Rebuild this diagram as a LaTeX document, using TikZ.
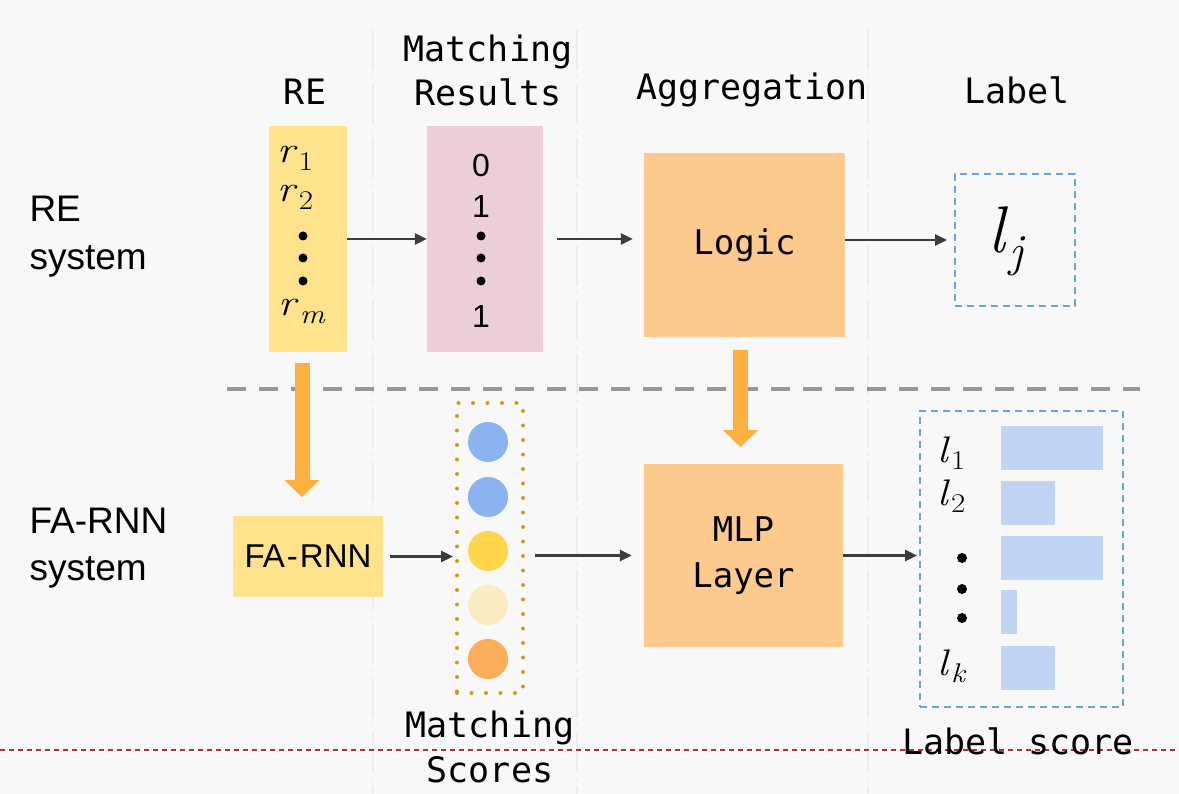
\documentclass[tikz,border=0pt]{standalone}
\usepackage{graphicx}
\usepackage{fontspec}
\setsansfont{Liberation Sans}
\setmonofont{DejaVu Sans Mono}
\usetikzlibrary{arrows.meta,positioning}

\definecolor{bg}{RGB}{248,248,248}
\definecolor{yelbox}{RGB}{255,226,140}
\definecolor{pinkbox}{RGB}{236,207,214}
\definecolor{orgbox}{RGB}{253,202,142}
\definecolor{fatorg}{RGB}{251,176,64}
\definecolor{cblue}{RGB}{138,180,240}
\definecolor{cyel}{RGB}{255,213,74}
\definecolor{cpale}{RGB}{251,235,192}
\definecolor{corg}{RGB}{250,174,90}
\definecolor{barblue}{RGB}{192,212,244}
\definecolor{dashblue}{RGB}{110,160,230}
\definecolor{linkgray}{RGB}{60,60,60}
\definecolor{sepgray}{RGB}{150,150,150}
\definecolor{dotgold}{RGB}{200,160,20}
\definecolor{pagered}{RGB}{170,50,60}

% wide symbol with big subscript, as on the slide
\newcommand{\widem}[2]{\scalebox{1.15}[1]{\textit{#1}\kern1pt\raisebox{-0.2em}{\fontsize{27}{30}\selectfont #2}}}

\begin{document}
\begin{tikzpicture}
  [x=1pt,y=-1pt,
   box/.style={rectangle,inner sep=0pt},
   head/.style={font=\ttfamily\fontsize{35}{40}\selectfont,anchor=base},
   side/.style={font=\sffamily\fontsize{37}{42}\selectfont,anchor=base west},
   mth/.style={font=\fontsize{37}{40}\selectfont,inner sep=0pt,anchor=base west},
   num/.style={font=\sffamily\fontsize{32}{36}\selectfont},
   dotn/.style={circle,fill=black,inner sep=0pt,minimum size=9pt},
   score/.style={circle,inner sep=0pt,minimum size=40pt},
   bar/.style={rectangle,fill=barblue,inner sep=0pt,minimum height=44pt,anchor=west},
   bluedash/.style={draw=dashblue,line width=1.8pt,dash pattern=on 7pt off 5pt},
   link/.style={draw=linkgray,line width=2.8pt,-{Triangle[length=12pt,width=11pt]}},
   fat/.style={draw=fatorg,line width=15pt,-{Triangle[length=17pt,width=34pt]}}]

  \useasboundingbox[fill=bg] (0,0) rectangle (1179,794);

  % faint column dividers
  \foreach \x in {373,577,868}
    \draw[black!7,line width=2pt,dash pattern=on 40pt off 6pt on 2pt off 6pt] (\x,30) -- (\x,794);

  % headers
  \node[head] (hre)  at (305,105) {RE};
  \node[head] (hmat) at (488,62)  {Matching};
  \node[head] (hres) at (488,106) {Results};
  \node[head] (hagg) at (752,100) {Aggregation};
  \node[head] (hlab) at (1017,104) {Label};

  % row labels
  \node[side] (lre)   at (26,222) {RE};
  \node[side] (lresy) at (26,270) {system};
  \node[side] (lfa)   at (26,533) {FA-RNN};
  \node[side] (lfasy) at (26,580) {system};

  % RE system
  \node[box,fill=yelbox,minimum width=78pt,minimum height=226pt] (rebox) at (308,239) {};
  \node[mth] (r1) at (277,163) {\widem{r}{1}};
  \node[mth] (r2) at (277,202) {\widem{r}{2}};
  \node[mth] (rm) at (278,316) {\widem{r}{\textit{m}}};

  \node[box,fill=pinkbox,minimum width=116pt,minimum height=226pt] (resbox) at (485,239) {};
  \node[num] (m1) at (481,165) {0};
  \node[num] (m2) at (481,206) {1};
  \node[num] (m3) at (481,316) {1};

  \foreach \x/\y [count=\i] in {303/236,303/258,303/281,481/236,481/258,481/281}
    \node[dotn] (dot\i) at (\x,\y) {};

  \node[box,fill=orgbox,minimum width=201pt,minimum height=184pt,
        font=\ttfamily\fontsize{34}{40}\selectfont] (logic) at (744.5,245) {Logic};

  \node[box,bluedash,minimum width=120pt,minimum height=132pt] (lj) at (1015,240) {};
  \node[mth,font=\fontsize{66}{70}\selectfont] (ljt) at (988,253)
    {\textit{l}\kern1pt\raisebox{-0.2em}{\fontsize{46}{50}\selectfont\textit{j}}};

  \draw[link] (rebox) -- (resbox);
  \draw[link,shorten <=14pt,shorten >=11pt] (resbox.east) -- (resbox.east -| logic.west);
  \draw[link,shorten >=7pt] (logic.east |- lj.west) -- (lj.west);

  % separator
  \draw[sepgray,line width=4pt,dash pattern=on 19pt off 13pt] (227,389) -- (1140,389);

  % FA-RNN system
  \node[box,fill=yelbox,minimum width=150pt,minimum height=81pt,
        font=\sffamily\fontsize{33}{36}\selectfont] (farnn) at (308,556.5) {FA\kern2pt-\kern2pt RNN};

  \node[box,draw=dotgold,line width=4pt,line cap=round,dash pattern=on 0pt off 14.5pt,
        minimum width=66pt,minimum height=290pt] (scorebox) at (490,548) {};
  \foreach \y/\c [count=\i] in {442/cblue,497/cblue,551/cyel,605/cpale,659/corg}
    \node[score,fill=\c] (s\i) at (488,\y) {};

  \node[box,fill=orgbox,minimum width=199pt,minimum height=183pt,align=center,
        font=\ttfamily\fontsize{34}{46}\selectfont] (mlp) at (743.5,555.5) {MLP\\Layer};

  \node[box,bluedash,minimum width=203pt,minimum height=296pt] (lscore) at (1021.5,559) {};
  \node[mth] (l1) at (937,462) {\widem{l}{1}};
  \node[mth] (l2) at (937,505) {\widem{l}{2}};
  \node[mth] (lk) at (937,675) {\widem{l}{\textit{k}}};
  \foreach \y [count=\i] in {558,589,618}
    \node[dotn,minimum size=10pt] (ld\i) at (962,\y) {};
  \foreach \w/\y [count=\i] in {102/448,54/502.5,102/558,16/612,54/667.5}
    \node[bar,minimum width=\w] (b\i) at (1001,\y) {};

  \draw[link,shorten <=7pt,shorten >=2pt] (farnn.east) -- (farnn.east -| scorebox.west);
  \draw[link,shorten <=10pt,shorten >=12pt] (mlp.west -| scorebox.east) -- (mlp.west);
  \draw[link,shorten >=2pt] (mlp.east) -- (mlp.east -| lscore.west);

  % RE system feeds FA-RNN system
  \draw[fat,shorten <=11pt,shorten >=19pt] (rebox.south) ++(-6,0) -- ++(0,164);
  \draw[fat,shorten <=13pt,shorten >=17pt] (logic.south) ++(-4,0) -- ++(0,127);

  % page break
  \draw[pagered,line width=1.2pt,dash pattern=on 5pt off 4pt] (0,750) -- (1179,750);

  \node[head] (hms) at (490,737) {Matching};
  \node[head] (hsc) at (490,782) {Scores};
  \node[head] (hls) at (1018,754) {Label score};

\end{tikzpicture}
\end{document}
